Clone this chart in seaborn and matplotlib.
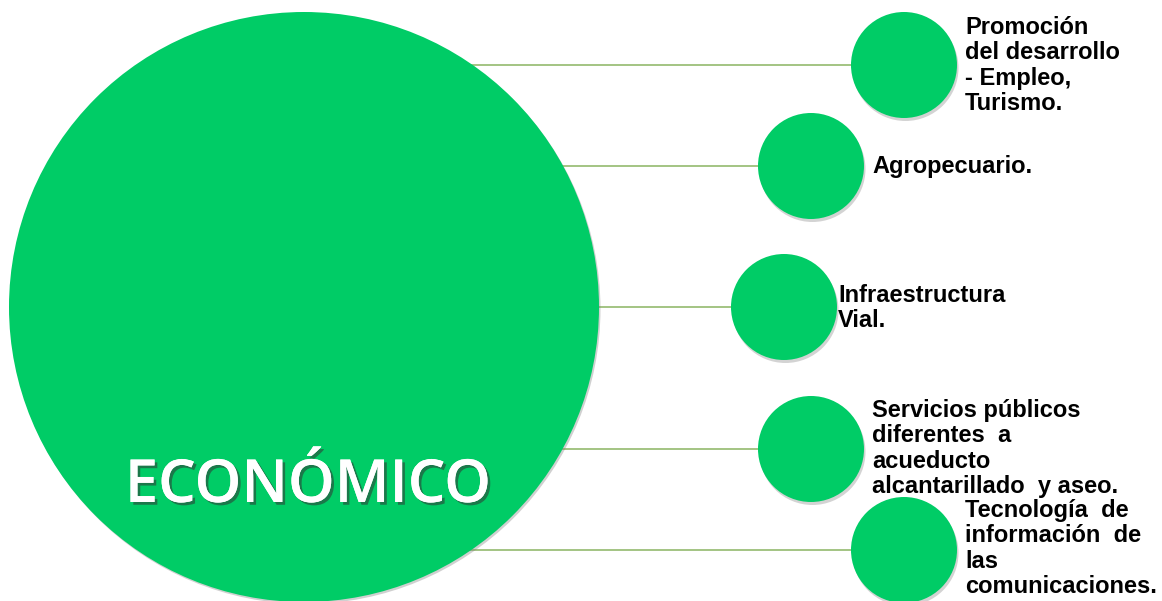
import matplotlib
matplotlib.use("Agg")
import matplotlib.pyplot as plt
import matplotlib.patheffects as pe
from matplotlib.patches import Circle
import seaborn as sns

# hub
hub_label = "ECONÓMICO"
hub_x, hub_y, hub_r = 304, 307, 295

# satellite nodes
node_labels = [
    "Promoción\ndel desarrollo\n- Empleo,\nTurismo.",
    "Agropecuario.",
    "Infraestructura\nVial.",
    "Servicios públicos\ndiferentes  a\nacueducto\nalcantarillado  y aseo.",
    "Tecnología  de\ninformación  de\nlas\ncomunicaciones.",
]
node_x = [904, 811, 784, 811, 904]
node_y = [65, 166, 307, 449, 550]
node_r = 53

# label anchors (left edge, baseline of last line)
label_x = [965, 872, 838, 872, 965]
label_base = [110, 173, 327, 493, 593]

green = "#00CC66"
link_color = "#93BA6E"

sns.set_theme(style="white")
plt.rcParams["font.family"] = ["Liberation Sans", "DejaVu Sans"]

fig = plt.figure(figsize=(11.62, 6.01), dpi=100)
ax = fig.add_axes([0, 0, 1, 1])
ax.set_xlim(0, 1162)
ax.set_ylim(601, 0)
ax.set_aspect("equal")
ax.axis("off")

# connectors
for x, y in zip(node_x, node_y):
    sns.lineplot(x=[hub_x, x], y=[y, y], ax=ax, color=link_color, lw=1.2,
                 zorder=1, sort=False)

# hub circle with soft shadow
ax.add_patch(Circle((hub_x + 1.5, hub_y + 2), hub_r, color="#7a7a7a", alpha=0.35, zorder=2, lw=0))
ax.add_patch(Circle((hub_x, hub_y), hub_r, color=green, zorder=3, lw=0))

# small circles with shadow
for x, y in zip(node_x, node_y):
    ax.add_patch(Circle((x + 1.5, y + 3), node_r, color="#6f6f6f", alpha=0.3, zorder=4, lw=0))
    ax.add_patch(Circle((x, y), node_r, color=green, zorder=5, lw=0))

ax.text(hub_x + 4, 502, hub_label, color="white", fontsize=42.8,
        family=["Open Sans", "DejaVu Sans"], fontweight="semibold",
        ha="center", va="baseline", zorder=6,
        path_effects=[pe.withSimplePatchShadow(offset=(2, -2), shadow_rgbFace="#333333", alpha=0.55),
                      pe.Normal()])

for lab, x, y in zip(node_labels, label_x, label_base):
    ax.text(x, y, lab, color="black", fontsize=17, fontweight="bold",
            ha="left", va="baseline", linespacing=1.13, zorder=7)

fig.savefig("out.png", dpi=100, facecolor="white")
